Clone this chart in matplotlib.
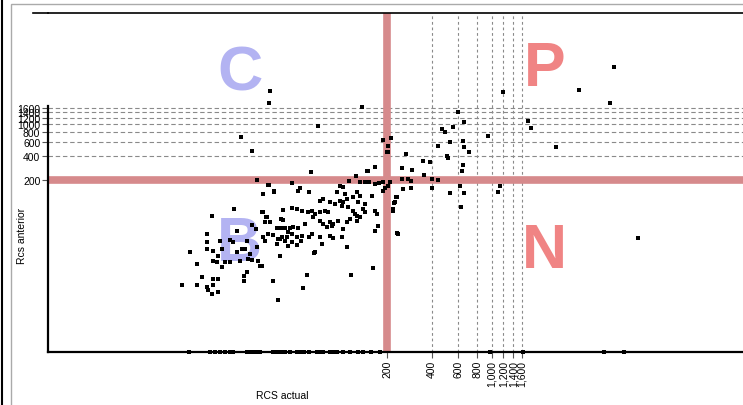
import matplotlib
matplotlib.use("Agg")
import matplotlib.pyplot as plt
import numpy as np
from matplotlib.lines import Line2D
from matplotlib.patches import Rectangle

plt.rcParams['font.family'] = ['Liberation Sans', 'DejaVu Sans']

# ---- data (RCS actual, RCS anterior) ----
rcs_actual = [
    27, 32.5, 29.6, 35, 13.5, 18.9, 29.2, 31.5, 30.6, 33, 25, 26.6,
    36.7, 39, 41.6, 44.9, 12.5, 19.8, 15.3, 17.8, 18.6, 23.1, 29.6, 30.6,
    38.4, 42.9, 12.5, 12.5, 15.8, 19.8, 21.4, 22.4, 27, 13.7, 24.2, 23.5,
    24.9, 14.8, 9.6, 13.7, 14.6, 16.5, 17.8, 20.7, 27.4, 28.3, 29.2, 38.4,
    15.8, 10.7, 23.1, 22.1, 11.6, 13.7, 14.8, 22.1, 34.5, 8.5, 10.7, 12.5,
    13.7, 12.7, 13.5, 14.8, 37.3, 54.9, 58.3, 115, 161, 65, 108, 233,
    200, 62, 149, 166, 111, 124, 132, 143, 151, 166, 176, 188, 209, 194,
    203, 188, 32, 46.3, 52.4, 50.8, 60, 35, 97, 101.5, 92.6, 105, 126, 132,
    159, 233, 227, 71, 74.5, 83, 90, 97, 100, 101.5, 108, 110, 118, 128,
    143, 139, 118, 122, 143, 126, 132, 166, 171, 219, 40.3, 46.3, 50, 54,
    59, 63, 66, 71, 77, 80.6, 64, 29.6, 31, 39, 40, 47, 50.8, 56.6, 71,
    74.5, 83, 87, 94, 79.4, 85.6, 101.5, 108, 113, 126, 166, 174, 236, 32,
    34.5, 43.6, 46.3, 50, 54, 60, 39.6, 41.6, 37.3, 36.7, 46.3, 43.6, 53,
    63, 71, 83, 87, 100, 73, 66, 50,
    136, 597, 655, 548, 467, 489, 948, 188, 212, 527, 645, 439, 655, 707,
    203, 203, 268, 504, 512, 348, 387, 645, 635, 252, 294, 147, 353, 252,
    276, 289, 400, 439, 256, 289, 400, 616, 1140, 1106, 527, 655, 626, 229,
    222, 219, 1194, 33, 32.5, 69, 21, 25, 6603, 3850, 6206, 1755, 1839,
    2700, 9556,
]
rcs_anterior = [
    200, 173, 134, 146, 71, 86.8, 79.6, 68.9, 59.7, 59.7, 54.7, 48.8,
    50.2, 50.2, 50.2, 50.2, 42.2, 46.1, 34.6, 35.6, 33.6, 34.6, 38.8, 34.6,
    36.6, 38.8, 33.6, 27.5, 27.5, 25.2, 27.5, 27.5, 29.1, 26, 23.8, 20.6,
    20, 22.4, 25.2, 19.4, 18.9, 18.9, 18.9, 19.4, 19.4, 16.8, 16.8, 22.4,
    16.4, 17.8, 14.2, 12.6, 12.2, 11.5, 11.5, 10.9, 10.9, 9.7, 9.7, 9.2,
    9.7, 8.4, 7.5, 7.9, 6.3, 8.9, 13, 13, 15.9, 24.5, 29.1, 43.5,
    447, 252, 260, 291, 194, 224, 189, 189, 189, 178, 184, 189, 189, 159,
    168, 146, 173, 183, 159, 146, 142, 142, 168, 163, 142, 134, 142, 126,
    126, 123, 106, 109, 116, 106, 100, 109, 94.5, 106, 116, 92, 123, 106,
    100, 87, 82, 75, 79.6, 71, 69, 82, 75, 87, 84.3, 89, 87, 82,
    79.6, 82, 75, 79.6, 82, 79.6, 69, 79.6, 69, 65, 63, 51.7, 50.2, 56.3, 61.4,
    56.3, 59.7, 56.3, 61.4, 51.7, 53.2, 48.8, 59.7, 65, 61.4, 46, 53.2, 42.2, 42.2,
    41, 44.8, 42.2, 38.8, 40, 38.8, 38.8, 34.6, 36.6, 31.7, 33.6, 29.9, 34.6,
    42.2, 38.8, 40, 37.7, 38.8, 31.7, 25.2, 30.8,
    1635, 1417, 1062, 919, 868, 796, 709, 632, 669, 597, 614, 532, 517, 447,
    532, 447, 422, 398, 375, 346, 336, 308, 260, 283, 267, 260, 231, 206,
    206, 194, 206, 200, 154, 159, 159, 168, 168, 142, 138, 138, 92, 123,
    103, 82, 2520, 2590, 1835, 946, 689, 460, 5170, 2667, 1835, 1093, 893,
    517, 37.7,
]
# cases with anterior RCS = 0 (drawn on the x axis)
rcs_actual_zero = [
    9.5, 13.1, 14.2, 15.3, 16.5, 17.8, 18.6, 23.1, 24.2, 25.3, 27, 28.3,
    34.5, 36.7, 39, 41.6, 44.9, 50, 52.4, 55.7, 60, 68, 71, 74.5, 83, 87,
    92.6, 101.5, 113, 128, 139, 155, 180, 977, 1625, 5660, 7700,
]

tick_vals = [200, 400, 600, 800, 1000, 1200, 1400, 1600]
x_tick_labels = ["200", "400", "600", "800", "1,000", "1,200", "1,400", "1,600"]
y_tick_labels = ["200", "400", "600", "800", "1000", "1200", "1400", "1600"]
threshold = 200
quadrants = [("C", "#b3b3f2"), ("P", "#f08484"), ("B", "#b3b3f2"), ("N", "#f08484")]

xmin, xmax = 1.08, 48000
ymin, ymax = 1.42, 24500

fig = plt.figure(figsize=(7.43, 4.06), dpi=100)
ax = fig.add_axes([48/743, 53/406, 1 - 48/743, 339/406])
ax.set_xscale('log')
ax.set_yscale('log')
ax.set_xlim(xmin, xmax)
ax.set_ylim(ymin, ymax)

# dashed grid at tick values (except threshold)
for v in tick_vals[1:]:
    ax.axvline(v, color='#8a8a8a', lw=0.8, ls=(0, (2.5, 2.5)), zorder=1)
    ax.axhline(v, color='#8a8a8a', lw=0.8, ls=(0, (4, 2.5)), zorder=1)

# threshold lines
ax.axvline(threshold, color='#d68a8c', lw=5.5, zorder=2)
ax.axhline(threshold, color='#d68a8c', lw=5.5, zorder=2)

# quadrant letters
pos = {"C": (0.276, 0.823), "P": (0.714, 0.835), "B": (0.276, 0.319), "N": (0.714, 0.298)}
for letter, col in quadrants:
    ax.text(pos[letter][0], pos[letter][1], letter, transform=ax.transAxes,
            fontsize=45, fontweight='bold', color=col, ha='center', va='center',
            zorder=2.5)

# points
ax.scatter(rcs_actual, rcs_anterior, marker='s', s=5, c='black', linewidths=0, zorder=4)
ax.scatter(rcs_actual_zero, np.full(len(rcs_actual_zero), ymin), marker='s', s=5,
           c='black', linewidths=0, zorder=5, clip_on=False)

ax.set_xticks(tick_vals)
ax.set_xticklabels(x_tick_labels, rotation=90, fontsize=7.5)
ax.set_yticks(tick_vals)
ax.set_yticklabels(y_tick_labels, fontsize=7.5)
ax.minorticks_off()
ax.tick_params(axis='both', length=4, width=0.8, color='#555555', pad=1.5)

for s in ['right']:
    ax.spines[s].set_visible(False)
ax.spines['top'].set_linewidth(1.2)
ax.spines['bottom'].set_linewidth(1.6)
ax.spines['left'].set_linewidth(1.6)
ax.spines['left'].set_bounds(ymin, 1680)

# extend the top line slightly to the left
fig.add_artist(Line2D([33/743, 48/743], [392/406, 392/406], color='black', lw=1.2))

fig.text(22/743, 1 - 236/406, "Rcs anterior", rotation=90, fontsize=7.5,
         ha='center', va='center')
fig.text(282/743, 1 - 396/406, "RCS actual", fontsize=7.5, ha='center', va='center')

# window frame
fig.add_artist(Line2D([1.5/743, 1.5/743], [0, 1], color='black', lw=1.5))
fig.add_artist(Rectangle((11/743, -0.1), 1.2, 1.1 - 5/406 + 0.0, fill=False,
                         edgecolor='#aaaaaa', lw=1.0, transform=fig.transFigure))

fig.savefig("out.png", dpi=100)
